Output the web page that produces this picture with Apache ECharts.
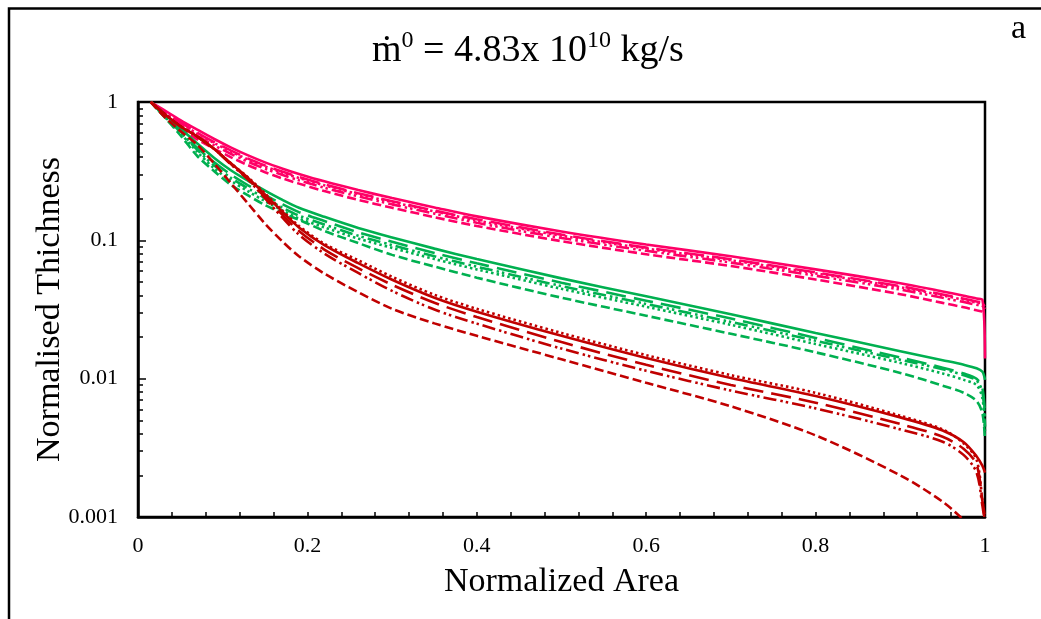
<!DOCTYPE html>
<html>
<head>
<meta charset="utf-8">
<script src="https://cdn.jsdelivr.net/npm/echarts@6/dist/echarts.min.js"></script>
<style>
  html, body { margin: 0; padding: 0; background: #fff; }
  #chart { width: 1041px; height: 619px; }
</style>
</head>
<body>
<div id="chart"></div>
<script>
// Normalised area (shared abscissa for every profile)
const xValues = [0.015, 0.03, 0.05, 0.07, 0.09, 0.11, 0.13, 0.15, 0.17, 0.19, 0.22, 0.26, 0.3, 0.35, 0.4, 0.5, 0.6, 0.7, 0.8, 0.9, 0.95, 0.975, 0.99, 0.997, 1.0];

// Pink group
const pinkSolid   = [1.0, 0.881, 0.741, 0.631, 0.54, 0.468, 0.411, 0.366, 0.331, 0.302, 0.267, 0.231, 0.202, 0.173, 0.149, 0.116, 0.0933, 0.0767, 0.0617, 0.049, 0.0427, 0.0398, 0.038, 0.0372, 0.014];
const pinkLong    = [1.0, 0.863, 0.715, 0.6, 0.513, 0.445, 0.39, 0.348, 0.314, 0.287, 0.254, 0.219, 0.192, 0.164, 0.142, 0.11, 0.0886, 0.0729, 0.0586, 0.0466, 0.0406, 0.0378, 0.0361, 0.0353, 0.032];
const pinkDot     = [1.0, 0.859, 0.708, 0.59, 0.505, 0.438, 0.384, 0.342, 0.309, 0.282, 0.25, 0.216, 0.189, 0.162, 0.139, 0.108, 0.0872, 0.0717, 0.0577, 0.0458, 0.0399, 0.0372, 0.0355, 0.0348, 0.033];
const pinkDashDot = [1.0, 0.846, 0.689, 0.568, 0.486, 0.421, 0.37, 0.329, 0.298, 0.272, 0.24, 0.208, 0.182, 0.156, 0.134, 0.104, 0.084, 0.069, 0.0555, 0.0441, 0.0384, 0.0358, 0.0342, 0.0335, 0.031];
const pinkDash    = [1.0, 0.819, 0.652, 0.536, 0.459, 0.398, 0.349, 0.311, 0.281, 0.257, 0.227, 0.196, 0.172, 0.147, 0.127, 0.0986, 0.0793, 0.0652, 0.0521, 0.0408, 0.0353, 0.0328, 0.0312, 0.0305, 0.029];

// Green group
const greenSolid   = [1.0, 0.832, 0.646, 0.501, 0.394, 0.32, 0.269, 0.229, 0.197, 0.172, 0.148, 0.123, 0.105, 0.0871, 0.0733, 0.0531, 0.0394, 0.0292, 0.0214, 0.0158, 0.0136, 0.0126, 0.0119, 0.0112, 0.0098];
const greenLong    = [1.0, 0.815, 0.62, 0.466, 0.366, 0.298, 0.25, 0.213, 0.183, 0.16, 0.138, 0.114, 0.0977, 0.081, 0.0682, 0.0494, 0.0366, 0.0272, 0.0197, 0.0142, 0.012, 0.0109, 0.01, 0.0085, 0.0053];
const greenDot     = [1.0, 0.799, 0.594, 0.436, 0.331, 0.269, 0.226, 0.192, 0.165, 0.144, 0.124, 0.103, 0.0882, 0.0732, 0.0616, 0.0446, 0.0331, 0.0245, 0.0178, 0.013, 0.0109, 0.0098, 0.009, 0.0072, 0.0042];
const greenDashDot = [1.0, 0.807, 0.607, 0.451, 0.347, 0.282, 0.237, 0.202, 0.173, 0.151, 0.13, 0.108, 0.0924, 0.0766, 0.0645, 0.0467, 0.0347, 0.0257, 0.0188, 0.0137, 0.0117, 0.0106, 0.0097, 0.008, 0.0045];
const greenDash    = [1.0, 0.794, 0.575, 0.407, 0.316, 0.251, 0.211, 0.18, 0.158, 0.141, 0.117, 0.0955, 0.0785, 0.0646, 0.0537, 0.0385, 0.0285, 0.0211, 0.0155, 0.011, 0.0089, 0.0079, 0.0069, 0.0056, 0.0036];

// Dark red group
const redSolid   = [1.0, 0.832, 0.668, 0.562, 0.457, 0.359, 0.283, 0.214, 0.162, 0.124, 0.0923, 0.0684, 0.0519, 0.0385, 0.0305, 0.0204, 0.0141, 0.0101, 0.0075, 0.00525, 0.00422, 0.00347, 0.00275, 0.00234, 0.00209];
const redLong    = [1.0, 0.832, 0.668, 0.562, 0.457, 0.355, 0.277, 0.205, 0.154, 0.117, 0.0858, 0.0629, 0.0477, 0.0354, 0.0279, 0.0184, 0.0126, 0.009, 0.0067, 0.0047, 0.0038, 0.0031, 0.0024, 0.0013, 0.001];
const redDot     = [1.0, 0.832, 0.668, 0.562, 0.457, 0.359, 0.285, 0.218, 0.165, 0.127, 0.0945, 0.0718, 0.0545, 0.0404, 0.032, 0.0214, 0.0148, 0.0106, 0.0079, 0.0054, 0.0043, 0.0034, 0.0026, 0.0013, 0.0009];
const redDashDot = [1.0, 0.832, 0.668, 0.562, 0.457, 0.352, 0.275, 0.201, 0.147, 0.11, 0.0803, 0.0581, 0.0431, 0.0316, 0.025, 0.0165, 0.0114, 0.0082, 0.0061, 0.0043, 0.0035, 0.0028, 0.0021, 0.0012, 0.0009];
const redDash    = [1.0, 0.794, 0.617, 0.49, 0.359, 0.257, 0.184, 0.132, 0.0989, 0.0767, 0.0575, 0.0422, 0.032, 0.0251, 0.0204, 0.0138, 0.00933, 0.00631, 0.00389, 0.002, 0.00129, 0.00095, 0.00076, 0.00068, 0.00063];

// Axis tick labels
const xTickLabels = ['0', '0.2', '0.4', '0.6', '0.8', '1'];
const yTickLabels = ['0.001', '0.01', '0.1', '1'];

const PINK = '#FF0066', GREEN = '#00B050', RED = '#C00000';
const DASH = {
  solid: 'solid',
  long: [20, 8],
  dot: [2.5, 3],
  dashDot: [13, 4, 2.5, 3, 2.5, 4],
  dash: [9, 4]
};

const profiles = [
  { name: 'pink-dash', color: PINK, style: 'dash', y: pinkDash },
  { name: 'pink-dashdot', color: PINK, style: 'dashDot', y: pinkDashDot },
  { name: 'pink-dot', color: PINK, style: 'dot', y: pinkDot },
  { name: 'pink-long', color: PINK, style: 'long', y: pinkLong },
  { name: 'pink-solid', color: PINK, style: 'solid', y: pinkSolid },
  { name: 'green-dash', color: GREEN, style: 'dash', y: greenDash },
  { name: 'green-dashdot', color: GREEN, style: 'dashDot', y: greenDashDot },
  { name: 'green-dot', color: GREEN, style: 'dot', y: greenDot },
  { name: 'green-long', color: GREEN, style: 'long', y: greenLong },
  { name: 'green-solid', color: GREEN, style: 'solid', y: greenSolid },
  { name: 'red-dash', color: RED, style: 'dash', y: redDash },
  { name: 'red-dashdot', color: RED, style: 'dashDot', y: redDashDot },
  { name: 'red-long', color: RED, style: 'long', y: redLong },
  { name: 'red-dot', color: RED, style: 'dot', y: redDot },
  { name: 'red-solid', color: RED, style: 'solid', y: redSolid }
];

// log-axis minor tick positions (2..9 within each decade)
const yMinorTicks = [];
[0.001, 0.01, 0.1].forEach(d => { for (let k = 2; k <= 9; k++) yMinorTicks.push(+(d * k).toPrecision(3)); });
const yMajorTicks = [0.001, 0.01, 0.1, 1];

const FONT = 'Liberation Serif, Times New Roman, serif';

const chart = echarts.init(document.getElementById('chart'), null, { renderer: 'canvas' });
chart.setOption({
  animation: false,
  backgroundColor: '#fff',
  title: {
    text: '{t|ṁ}{s|0}{t| = 4.83x 10}{s|10}{t| kg/s}',
    left: 372,
    top: 29,
    padding: 0,
    textStyle: {
      fontWeight: 'normal',
      rich: {
        t: { fontFamily: FONT, fontSize: 38, fontWeight: 'normal', color: '#000', lineHeight: 45 },
        s: { fontFamily: FONT, fontSize: 24, fontWeight: 'normal', color: '#000', lineHeight: 30, verticalAlign: 'top' }
      }
    }
  },
  graphic: [
    { type: 'rect', left: 6.5, top: 6, shape: { x: 0, y: 0, width: 1100, height: 700 },
      style: { fill: 'none', stroke: '#000', lineWidth: 2.5 }, silent: true },
    { type: 'text', left: 1011, top: 12, style: { text: 'a', font: '34px ' + FONT, fill: '#000' } }
  ],
  grid: {
    left: 138, right: 56, top: 102, bottom: 102,
    show: true, borderColor: '#000', borderWidth: 2.5, backgroundColor: 'transparent'
  },
  xAxis: {
    type: 'value', min: 0, max: 1, interval: 0.2,
    name: 'Normalized Area', nameLocation: 'middle', nameGap: 48,
    nameTextStyle: { fontFamily: FONT, fontSize: 34, color: '#000' },
    axisLine: { show: true, lineStyle: { color: '#000', width: 2.5 } },
    axisTick: { show: true, inside: true, length: 5, lineStyle: { color: '#000', width: 1.5 } },
    minorTick: { show: true, splitNumber: 5, length: 5, lineStyle: { color: '#000', width: 1.5 } },
    splitLine: { show: false },
    axisLabel: {
      margin: 18, fontFamily: FONT, fontSize: 22, color: '#000',
      formatter: v => xTickLabels[Math.round(v / 0.2)]
    }
  },
  yAxis: [
    {
      type: 'log', logBase: 10, min: 0.001, max: 1,
      name: 'Normalised Thichness', nameLocation: 'middle', nameGap: 71, nameRotate: 90,
      nameMoveOverlap: false,
      nameTextStyle: { fontFamily: FONT, fontSize: 34, color: '#000' },
      axisLine: { show: true, lineStyle: { color: '#000', width: 2.5 } },
      axisTick: { show: true, inside: true, length: 8, customValues: yMajorTicks, lineStyle: { color: '#000', width: 1.5 } },
      splitLine: { show: false },
      axisLabel: {
        margin: 20, fontFamily: FONT, fontSize: 22, color: '#000',
        customValues: yMajorTicks,
        formatter: v => yTickLabels[Math.round(Math.log10(v)) + 3]
      }
    },
    {
      type: 'log', logBase: 10, min: 0.001, max: 1, position: 'left',
      axisLine: { show: false },
      axisTick: { show: true, inside: true, length: 5, customValues: yMinorTicks, lineStyle: { color: '#000', width: 1.5 } },
      axisLabel: { show: false },
      splitLine: { show: false }
    }
  ],
  series: profiles.map(p => ({
    name: p.name,
    type: 'line',
    yAxisIndex: 0,
    data: xValues.map((x, i) => [x, p.y[i]]),
    showSymbol: false,
    smooth: 0.3,
    clip: true,
    lineStyle: { color: p.color, width: 2.6, type: DASH[p.style] }
  }))
});
</script>
</body>
</html>
